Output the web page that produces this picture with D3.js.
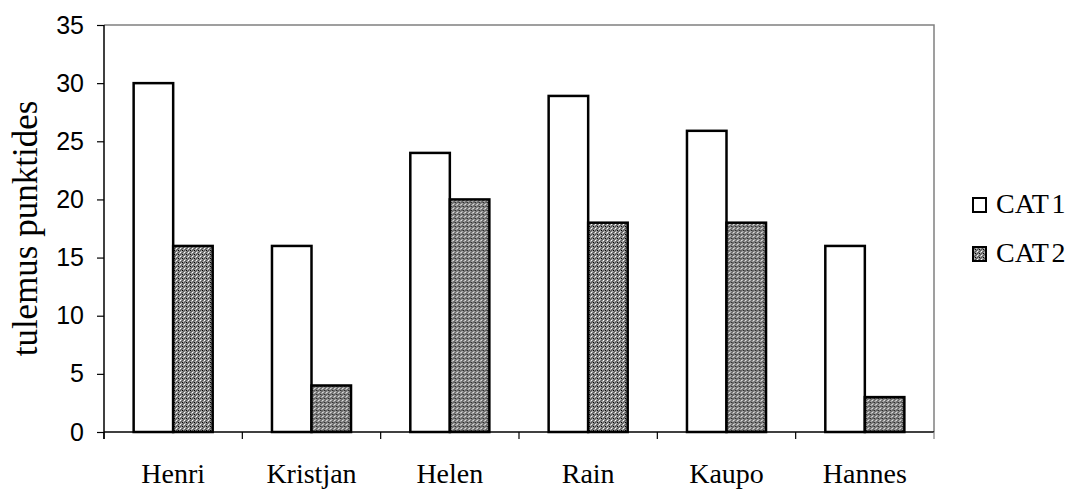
<!DOCTYPE html>
<html>
<head>
<meta charset="utf-8">
<script src="https://cdn.jsdelivr.net/npm/d3@7"></script>
<style>
  body { margin: 0; background: #fff; }
  svg { display: block; }
</style>
</head>
<body>
<div id="chart"></div>
<script>
const names = ["Henri", "Kristjan", "Helen", "Rain", "Kaupo", "Hannes"];
const seriesNames = ["CAT 1", "CAT 2"];
const cat1 = [30, 16, 24, 28.9, 25.9, 16];
const cat2 = [16, 4, 20, 18, 18, 3];
const yTicks = [0, 5, 10, 15, 20, 25, 30, 35];
const yTitle = "tulemus punktides";

const width = 1075, height = 489;
const plot = {left: 104, right: 934, top: 25, bottom: 432};
const serif = "'Liberation Serif', 'Times New Roman', serif";
const sans = "'Liberation Sans', Arial, sans-serif";

var svg = d3.select("#chart").append("svg")
  .attr("width", width)
  .attr("height", height);

// checker pattern for the second series
var defs = svg.append("defs");
var pat = defs.append("pattern")
  .attr("id", "checker")
  .attr("patternUnits", "userSpaceOnUse")
  .attr("width", 4).attr("height", 4);
pat.append("rect").attr("width", 4).attr("height", 4).attr("fill", "#8c8c8c");
[[0,0,"#ffffff"],[2,0,"#555"],[1,1,"#555"],[3,1,"#bbb"],[0,2,"#555"],[2,2,"#000"],[1,3,"#bbb"],[3,3,"#555"]]
  .forEach(function(p) {
    pat.append("rect").attr("x", p[0]).attr("y", p[1]).attr("width", 1).attr("height", 1).attr("fill", p[2]);
  });

var x = d3.scaleBand().domain(names).range([plot.left, plot.right]).padding(0);
var x1 = d3.scaleBand().domain(seriesNames).range([0, x.bandwidth()])
  .paddingInner(0).paddingOuter(0.75);
var y = d3.scaleLinear().domain([0, 35]).range([plot.bottom, plot.top]);

// plot frame (top and right gray)
svg.append("path")
  .attr("d", `M${plot.left},${plot.top}H${plot.right}V${plot.bottom}`)
  .attr("fill", "none")
  .attr("stroke", "#808080")
  .attr("stroke-width", 1.5);

const data = names.map((n, i) => ({name: n, values: [cat1[i], cat2[i]]}));
const fills = ["#ffffff", "url(#checker)"];

var groups = svg.append("g").selectAll("g")
  .data(data)
  .enter().append("g")
  .attr("transform", d => `translate(${x(d.name)},0)`);

groups.selectAll("rect")
  .data(d => d.values.map((v, j) => ({s: seriesNames[j], v: v, j: j})))
  .enter().append("rect")
  .attr("x", d => x1(d.s))
  .attr("y", d => y(d.v))
  .attr("width", x1.bandwidth())
  .attr("height", d => y(0) - y(d.v))
  .attr("fill", d => fills[d.j])
  .attr("stroke", "#000")
  .attr("stroke-width", 2.5);

// y axis
var yAxis = svg.append("g")
  .attr("transform", `translate(${plot.left},0)`)
  .call(d3.axisLeft(y).tickValues(yTicks).tickSize(7).tickPadding(13).tickSizeOuter(0));
yAxis.select(".domain").attr("stroke", "#000").attr("stroke-width", 1.5)
  .attr("d", `M0,${plot.top}V${plot.bottom + 7}`);
yAxis.selectAll(".tick line").attr("stroke", "#000").attr("stroke-width", 1.2);
yAxis.selectAll(".tick text")
  .attr("font-family", sans)
  .attr("font-size", 25)
  .attr("fill", "#000");

// x axis: baseline plus boundary ticks
var xAxis = svg.append("g");
xAxis.append("line")
  .attr("x1", plot.left).attr("x2", plot.right)
  .attr("y1", plot.bottom).attr("y2", plot.bottom)
  .attr("stroke", "#000").attr("stroke-width", 1.5);
xAxis.selectAll("line.tk")
  .data(names.map(n => x(n)).concat([plot.right]))
  .enter().append("line")
  .attr("class", "tk")
  .attr("x1", d => d).attr("x2", d => d)
  .attr("y1", plot.bottom).attr("y2", plot.bottom + 7)
  .attr("stroke", d => d === plot.right ? "#808080" : "#000")
  .attr("stroke-width", 1.2);
xAxis.selectAll("text")
  .data(names)
  .enter().append("text")
  .attr("x", d => x(d) + x.bandwidth() / 2)
  .attr("y", 483)
  .attr("text-anchor", "middle")
  .attr("font-family", serif)
  .attr("font-size", 28)
  .text(d => d);

// y title
svg.append("text")
  .attr("transform", `translate(37,${(plot.top + plot.bottom) / 2}) rotate(-90)`)
  .attr("text-anchor", "middle")
  .attr("font-family", serif)
  .attr("font-size", 35)
  .text(yTitle);

// legend
var legend = svg.append("g").attr("transform", "translate(973,198)");
var li = legend.selectAll("g")
  .data(seriesNames)
  .enter().append("g")
  .attr("transform", (d, i) => `translate(0,${i * 49})`);
li.append("rect")
  .attr("width", 13).attr("height", 14)
  .attr("fill", (d, i) => fills[i])
  .attr("stroke", "#000")
  .attr("stroke-width", 2);
li.append("text")
  .attr("x", 23).attr("y", 15)
  .attr("font-family", serif)
  .attr("font-size", 28)
  .attr("word-spacing", -4)
  .text(d => d);
</script>
</body>
</html>
